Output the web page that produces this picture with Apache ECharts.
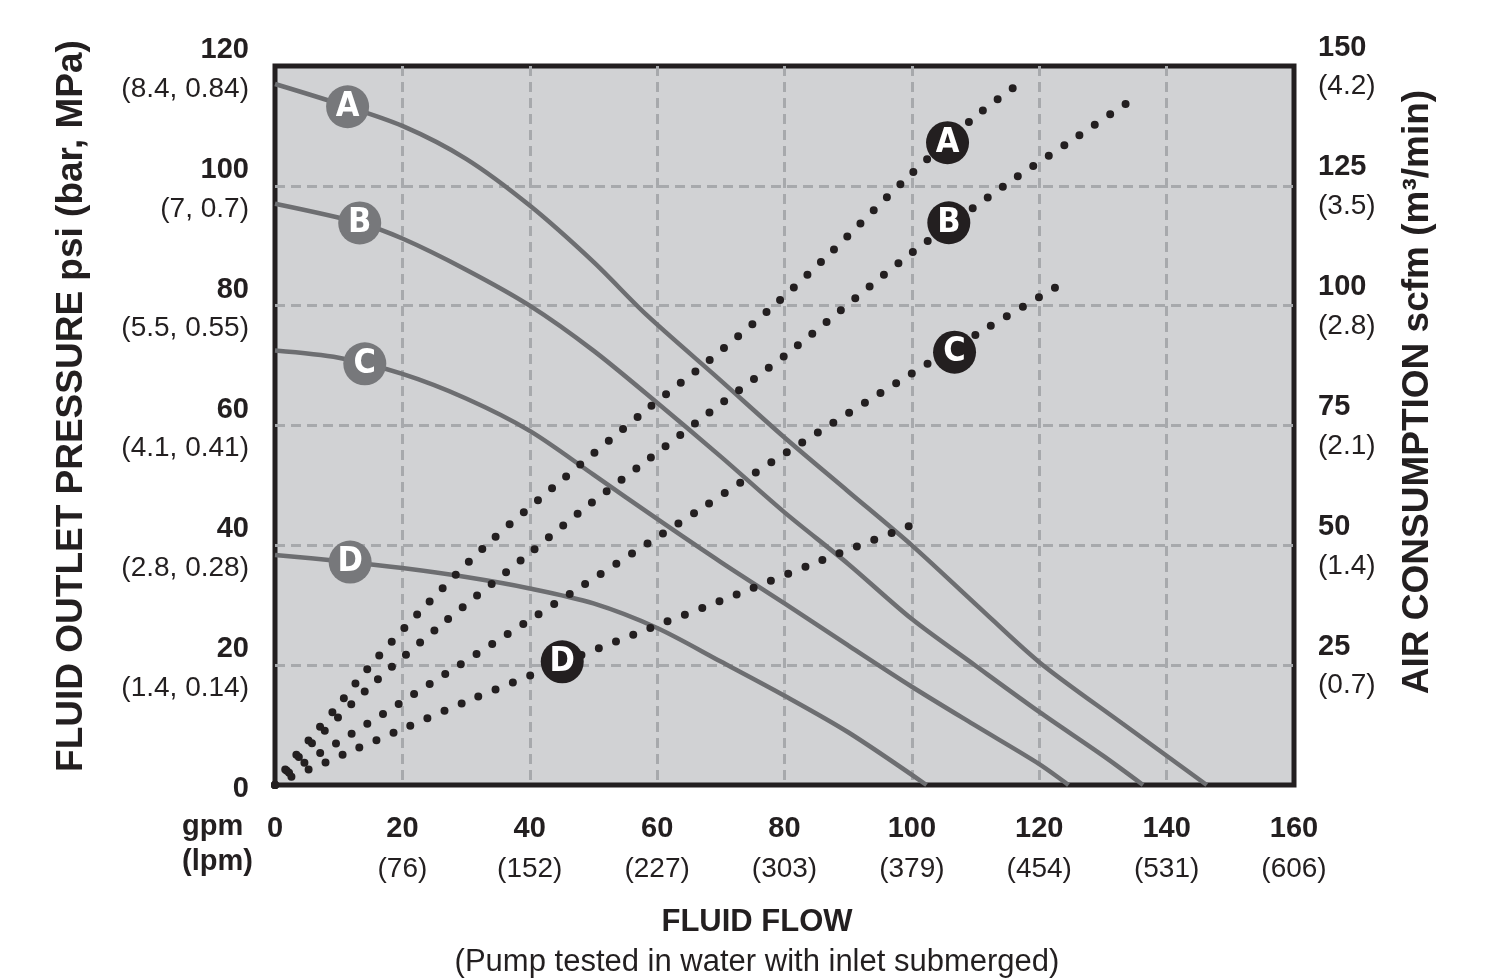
<!DOCTYPE html>
<html>
<head>
<meta charset="utf-8">
<script src="https://cdn.jsdelivr.net/npm/echarts@6/dist/echarts.min.js"></script>
<style>
html,body{margin:0;padding:0;background:#fff;}
#chart{width:1507px;height:979px;}
</style>
</head>
<body>
<div id="chart"></div>
<script>
// ---- Data ----
const gpmTicks = [0, 20, 40, 60, 80, 100, 120, 140, 160];
const lpmLabels = ['', '76', '152', '227', '303', '379', '454', '531', '606'];
const psiTicks = [0, 20, 40, 60, 80, 100, 120];
const barMpaLabels = ['', '1.4, 0.14', '2.8, 0.28', '4.1, 0.41', '5.5, 0.55', '7, 0.7', '8.4, 0.84'];
const scfmTicks = [0, 25, 50, 75, 100, 125, 150];
const m3Labels = ['', '0.7', '1.4', '2.1', '2.8', '3.5', '4.2'];

const curveNames = ['A', 'B', 'C', 'D'];

// Fluid outlet pressure (psi) vs flow (gpm)
const pressA = [[0,117],[10,113.7],[20,110],[30,104.5],[40,96.7],[50,87.3],[58.3,78.5],[70,67.5],[80,58],[90,49],[100,40],[110,30.2],[120,20.5],[133,10.3],[146.3,0]];
const pressB = [[0,97],[13.3,93.8],[20,91.2],[30,86],[40,80],[50,72.5],[60,63.8],[70,54.8],[80,45.5],[90,36.9],[100,27.7],[110,19.9],[120,12.2],[130,4.9],[136.3,0]];
const pressC = [[0,72.5],[10,71.3],[20,68.6],[30,64.5],[40,59.1],[50,51.8],[60,44.4],[70,37.2],[80,30.3],[90,23.3],[100,16.4],[110,9.9],[120,3.5],[124.6,0]];
const pressD = [[0,38.4],[10,37.4],[20,36.2],[30,34.7],[40,32.8],[50,30.3],[60,26.2],[70,20.6],[80,14.9],[90,8.8],[102.3,0]];

// Air consumption (scfm) vs flow (gpm)
const airA = [[0,0],[2.4,4.7],[5.9,10.3],[9.7,16.3],[14.9,24.8],[22.7,36.1],[32.9,49.7],[43.6,62],[58.8,78.8],[68,88.4],[78.9,100.7],[87.2,111],[99.5,127],[110.2,139.7],[117,146.5]];
const airB = [[0,0],[3.5,5.5],[7.1,10.4],[15.2,20.9],[25.9,33.2],[39.2,47.5],[47.8,56.9],[58.9,68.2],[67.9,77.4],[81.4,91],[99,110],[114.7,125.2],[125,134.4],[135.9,144.2]];
const airC = [[0,0],[2.35,2.7],[11.8,10.5],[21.4,18.6],[40.4,34.8],[66.6,57.4],[80.7,69.7],[99.8,85.7],[112,95.5],[124.1,105]];
const airD = [[0,0],[2.35,1.6],[7.4,4.4],[12.5,7.4],[20.4,11.9],[30.7,17.8],[41.3,23.5],[56.9,31.7],[72.6,39.8],[85.7,46.8],[101.5,55]];

// Curve tag positions (gpm, psi) and (gpm, scfm)
const pressTagPos = [[11.4,113.2],[13.3,93.8],[14.1,70.3],[11.8,37.2]];
const airTagPos = [[105.6,134],[105.8,117.3],[106.7,90.3],[45.1,25.7]];

// ---- Chart ----
const FONT = "'Liberation Sans', Arial, Helvetica, sans-serif";
const NARROW = "'Liberation Sans Narrow', 'DejaVu Sans Condensed', 'Liberation Sans', sans-serif";
const INK = '#231f20';
const SOLID = '#6d6e71';

const chart = echarts.init(document.getElementById('chart'), null, {renderer: 'canvas'});

const pressSets = [pressA, pressB, pressC, pressD];
const airSets = [airA, airB, airC, airD];

const series = [];
pressSets.forEach((d, i) => {
  series.push({
    type: 'line', name: 'P' + curveNames[i], xAxisIndex: 0, yAxisIndex: 0,
    data: d, smooth: 0.3, showSymbol: false, silent: true, z: 2,
    lineStyle: {color: SOLID, width: 4.5}
  });
});
airSets.forEach((d, i) => {
  series.push({
    type: 'line', name: 'Q' + curveNames[i], xAxisIndex: 0, yAxisIndex: 1,
    data: d, smooth: 0.3, showSymbol: false, silent: true, z: 3,
    lineStyle: {color: INK, width: 8, type: [0, 18.5], cap: 'round'}
  });
});
const tagLabel = {
  show: true, position: 'inside', color: '#fff',
  fontFamily: NARROW, fontWeight: 'bold', fontSize: 34,
  formatter: p => curveNames[p.dataIndex]
};
series.push({
  type: 'scatter', xAxisIndex: 0, yAxisIndex: 0, z: 5, silent: true,
  symbol: 'circle', symbolSize: 43,
  itemStyle: {color: '#77787b', opacity: 1},
  label: tagLabel,
  data: pressTagPos
});
series.push({
  type: 'scatter', xAxisIndex: 0, yAxisIndex: 1, z: 5, silent: true,
  symbol: 'circle', symbolSize: 43,
  itemStyle: {color: INK, opacity: 1},
  label: tagLabel,
  data: airTagPos
});

const splitStyle = {color: '#a7a9ac', width: 3, type: [10, 6]};

const option = {
  backgroundColor: '#ffffff',
  animation: false,
  grid: {
    left: 275, right: 213, top: 66, bottom: 194,
    show: true, backgroundColor: '#d1d2d4', borderColor: INK, borderWidth: 5
  },
  xAxis: [{
    type: 'value', min: 0, max: 160, interval: 20,
    axisLine: {show: false}, axisTick: {show: false},
    splitLine: {show: true, showMinLine: false, showMaxLine: false, lineStyle: splitStyle},
    axisLabel: {
      margin: 24, color: INK,
      formatter: v => {
        const i = gpmTicks.indexOf(v);
        const l = lpmLabels[i];
        return l ? '{b|' + v + '}\n{p|(' + l + ')}' : '{b|' + v + '}';
      },
      rich: {
        b: {fontFamily: FONT, fontWeight: 'bold', fontSize: 29, lineHeight: 40, color: INK},
        p: {fontFamily: FONT, fontSize: 28, lineHeight: 40, color: INK}
      }
    }
  }],
  yAxis: [{
    type: 'value', min: 0, max: 120, interval: 20, position: 'left',
    axisLine: {show: false}, axisTick: {show: false},
    splitLine: {show: true, showMinLine: false, showMaxLine: false, lineStyle: splitStyle},
    axisLabel: {
      margin: 26, color: INK, padding: [7, 0, 0, 0],
      formatter: v => {
        const i = psiTicks.indexOf(v);
        const l = barMpaLabels[i];
        return l ? '{b|' + v + '}\n{p|(' + l + ')}' : '{b|' + v + '}';
      },
      rich: {
        b: {fontFamily: FONT, fontWeight: 'bold', fontSize: 29, lineHeight: 39, color: INK, align: 'right'},
        p: {fontFamily: FONT, fontSize: 28, lineHeight: 39, color: INK, align: 'right'}
      }
    }
  }, {
    type: 'value', min: 0, max: 150, interval: 25, position: 'right',
    axisLine: {show: false}, axisTick: {show: false},
    splitLine: {show: false},
    axisLabel: {
      margin: 24, color: INK, padding: [2, 0, 0, 0],
      formatter: v => {
        const i = scfmTicks.indexOf(v);
        const l = m3Labels[i];
        return l ? '{b|' + v + '}\n{p|(' + l + ')}' : '';
      },
      rich: {
        b: {fontFamily: FONT, fontWeight: 'bold', fontSize: 29, lineHeight: 39, color: INK, align: 'left'},
        p: {fontFamily: FONT, fontSize: 28, lineHeight: 39, color: INK, align: 'left'}
      }
    }
  }],
  graphic: [
    {type: 'text', x: 72, y: 406, rotation: Math.PI / 2,
     style: {text: 'FLUID OUTLET PRESSURE psi (bar, MPa)', fontFamily: FONT, fontWeight: 'bold', fontSize: 37, fill: INK, align: 'center', verticalAlign: 'middle'}},
    {type: 'text', x: 1418, y: 392, rotation: Math.PI / 2,
     style: {text: 'AIR CONSUMPTION scfm (m³/min)', fontFamily: FONT, fontWeight: 'bold', fontSize: 37, fill: INK, align: 'center', verticalAlign: 'middle'}},
    {type: 'text', x: 757, y: 922,
     style: {text: 'FLUID FLOW', fontFamily: FONT, fontWeight: 'bold', fontSize: 31, fill: INK, align: 'center', verticalAlign: 'middle'}},
    {type: 'text', x: 757, y: 962,
     style: {text: '(Pump tested in water with inlet submerged)', fontFamily: FONT, fontSize: 31, fill: INK, align: 'center', verticalAlign: 'middle'}},
    {type: 'text', x: 182, y: 827,
     style: {text: 'gpm', fontFamily: FONT, fontWeight: 'bold', fontSize: 29, fill: INK, align: 'left', verticalAlign: 'middle'}},
    {type: 'text', x: 182, y: 862,
     style: {text: '(lpm)', fontFamily: FONT, fontWeight: 'bold', fontSize: 29, fill: INK, align: 'left', verticalAlign: 'middle'}}
  ],
  series: series
};
chart.setOption(option);
</script>
</body>
</html>
